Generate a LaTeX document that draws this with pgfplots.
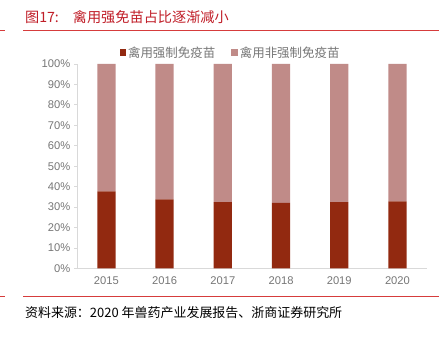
\documentclass[border=0pt]{standalone}
\usepackage{pgfplots}
\pgfplotsset{compat=1.18}
\usepackage{fontspec}
\setmainfont{Liberation Sans}
\newfontfamily\cjk{Noto Sans CJK SC}
\definecolor{darkbar}{RGB}{146,41,16}
\definecolor{lightbar}{RGB}{192,139,136}
\definecolor{titlered}{RGB}{192,30,40}
\definecolor{linered}{RGB}{214,60,60}
\definecolor{ticklab}{RGB}{118,118,118}
\definecolor{axisgray}{RGB}{217,217,217}
\begin{document}
\begin{tikzpicture}[x=1pt,y=1pt]
\path (0,0) rectangle (439,337);
\draw[linered, line width=0.9pt] (23,306.5) -- (439,306.5);
\draw[linered, line width=0.9pt] (0,306.5) -- (5,306.5);
\draw[linered, line width=0.9pt] (23,40) -- (439,40);
\draw[linered, line width=0.9pt] (0,40) -- (5,40);
\node[anchor=west, inner sep=0pt, text=titlered] at (24.5,320) {\cjk\fontsize{14.2}{14.2}\selectfont 图17:\hspace{14pt}禽用强免苗占比逐渐减小};
\node[anchor=west, inner sep=0pt] at (24.5,23.5) {\cjk\fontsize{13}{13}\selectfont 资料来源：2020 年兽药产业发展报告、浙商证券研究所};
\begin{axis}[
  at={(77pt,68pt)}, anchor=south west,
  scale only axis, width=350pt, height=205pt,
  ybar stacked, bar width=18.3pt,
  xmin=-0.5, xmax=5.5, ymin=0, ymax=100,
  xtick=data, xticklabels={2015,2016,2017,2018,2019,2020},
  ytick={0,10,...,100},
  yticklabel={\pgfmathprintnumber{\tick}\%},
  /pgf/number format/assume math mode=true,
  axis x line*=bottom, axis y line*=left,
  axis line style={axisgray, line width=0.8pt},
  x axis line style={-}, y axis line style={-},
  major tick length=3pt,
  xtick style={draw=none},
  ytick style={axisgray, line width=0.6pt},
  tick align=outside,
  ticklabel style={text=ticklab, font=\fontsize{11.2}{11.2}\selectfont},
  x tick label style={yshift=-2pt},
  y tick label style={xshift=-0.5pt},
  legend columns=2,
  legend style={at={(0.121,1.055)}, anchor=west, draw=none, fill=none,
    font=\cjk\fontsize{12.5}{12.5}\selectfont, text=ticklab,
    inner sep=0pt, outer sep=0pt,
    /tikz/every even column/.append style={column sep=14pt}},
  legend image code/.code={\fill[#1] (0pt,-3.2pt) rectangle (6.5pt,3.3pt);},
]
\addplot[fill=darkbar, draw=none] coordinates {(0,37.7) (1,33.8) (2,32.4) (3,32.0) (4,32.4) (5,32.8)};
\addplot[fill=lightbar, draw=none] coordinates {(0,62.3) (1,66.2) (2,67.6) (3,68.0) (4,67.6) (5,67.2)};
\legend{禽用强制免疫苗, 禽用非强制免疫苗}
\end{axis}
\end{tikzpicture}
\end{document}
